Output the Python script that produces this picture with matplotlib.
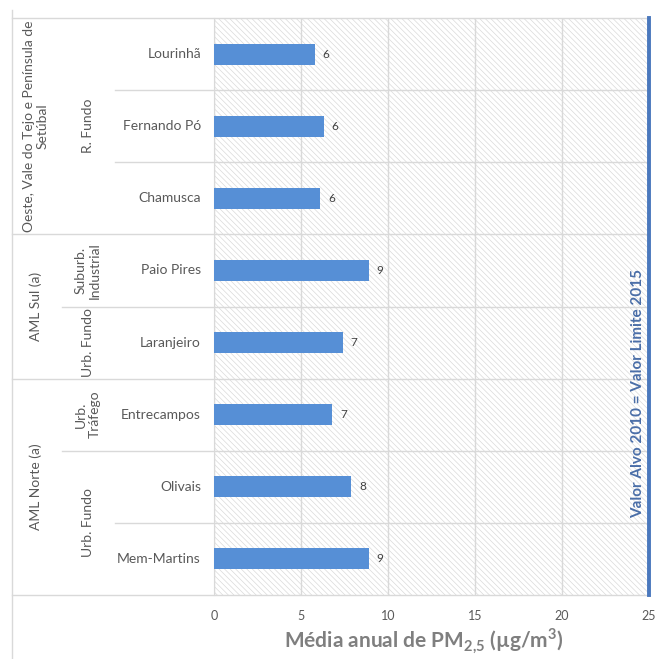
import matplotlib
matplotlib.use("Agg")
import matplotlib.pyplot as plt
from matplotlib.patches import Rectangle

# estações (de baixo para cima) e média anual de PM2,5
stations = ['Mem-Martins', 'Olivais', 'Entrecampos', 'Laranjeiro', 'Paio Pires',
            'Chamusca', 'Fernando Pó', 'Lourinhã']
pm25 = [8.9, 7.9, 6.8, 7.4, 8.9, 6.1, 6.3, 5.8]

# tipo de estação: (nome, primeira linha, última linha + 1)
site_types = [('Urb. Fundo', 0, 2), ('Urb.\nTráfego', 2, 3), ('Urb. Fundo', 3, 4),
              ('Suburb.\nIndustrial', 4, 5), ('R. Fundo', 5, 8)]
regions = [('AML Norte (a)', 0, 3), ('AML Sul (a)', 3, 5),
           ('Oeste, Vale do Tejo e Península de\nSetúbal', 5, 8)]

x_ticks = [0, 5, 10, 15, 20, 25]
limit_value = 25
limit_text = 'Valor Alvo 2010 = Valor Limite 2015'

plt.rcParams['font.family'] = ['Lato', 'DejaVu Sans']
plt.rcParams['mathtext.fontset'] = 'custom'
plt.rcParams['mathtext.rm'] = 'Lato'
plt.rcParams['mathtext.bf'] = 'Lato:bold'
plt.rcParams['hatch.color'] = '#dadada'
plt.rcParams['hatch.linewidth'] = 0.5

grid_col = '#d9d9d9'
W, H = 657, 659

fig = plt.figure(figsize=(W / 100, H / 100), dpi=100)
left_px, right_px, top_px, bottom_px = 214, 649, 18, 595
ax = fig.add_axes([left_px / W, (H - bottom_px) / H,
                   (right_px - left_px) / W, (bottom_px - top_px) / H])

def fx(px):
    # pixel x -> fracção do eixo
    return (px - left_px) / (right_px - left_px)

ax.add_patch(Rectangle((0, 0), 1, 1, transform=ax.transAxes, facecolor='white',
                       edgecolor='#dadada', hatch='\\' * 6, lw=0, zorder=0))

y = [i + 0.5 for i in range(len(stations))]
ax.barh(y, pm25, height=0.29, color='#568fd6', zorder=3)
for yi, v in zip(y, pm25):
    ax.text(v + 0.45, yi, f'{v:.0f}', va='center', ha='left', fontsize=8.5,
            color='#404040', zorder=4)

ax.set_xlim(0, 25)
ax.set_ylim(0, len(stations))
ax.set_xticks(x_ticks)
ax.set_yticks([])
ax.tick_params(axis='x', length=0, pad=11, labelsize=9, labelcolor='#595959')
ax.grid(axis='x', color=grid_col, lw=1, zorder=1)
for s in ['top', 'right', 'bottom']:
    ax.spines[s].set_visible(False)
ax.spines['left'].set_color(grid_col)

ax.axvline(limit_value, color='#4a78bd', lw=2.8, zorder=5, clip_on=False)
ax.text(limit_value - 0.62, 2.8, limit_text, rotation=90, ha='center', va='center',
        fontsize=11, fontweight='bold', color='#4a6ea8', zorder=6)

# linhas separadoras das categorias
tr = ax.get_yaxis_transform()
x_outer, x_type, x_station = fx(12), fx(62), fx(115)
for yb in [0, 3, 5, 8]:
    ax.plot([x_outer, 1], [yb, yb], color=grid_col, lw=1, transform=tr, clip_on=False, zorder=2)
for yb in [2, 4]:
    ax.plot([x_type, 1], [yb, yb], color=grid_col, lw=1, transform=tr, clip_on=False, zorder=2)
for yb in [1, 6, 7]:
    ax.plot([x_station, 1], [yb, yb], color=grid_col, lw=1, transform=tr, clip_on=False, zorder=2)
ax.plot([x_outer, x_outer], [(bottom_px - 10) / (bottom_px - top_px), (bottom_px - H) / (bottom_px - top_px)],
        color=grid_col, lw=1, transform=ax.transAxes, clip_on=False)

lab_col = '#595959'
for name, yi in zip(stations, y):
    ax.text(fx(201), yi, name, transform=tr, ha='right', va='center',
            fontsize=10, color=lab_col)
for name, a, b in site_types:
    ax.text(fx(88), (a + b) / 2, name, transform=tr, ha='center', va='center',
            rotation=90, fontsize=10, color=lab_col, multialignment='center')
for name, a, b in regions:
    ax.text(fx(36), (a + b) / 2, name, transform=tr, ha='center', va='center',
            rotation=90, fontsize=10, color=lab_col, multialignment='center')

fig.text(424 / W, 1 - 641 / H, r'Média anual de PM$_{\mathbf{2{,}5}}$ (µg/m$^{\mathbf{3}}$)',
         ha='center', va='center', fontsize=15, fontweight='bold', color='#7f7f7f')

fig.savefig('out.png', dpi=100)
